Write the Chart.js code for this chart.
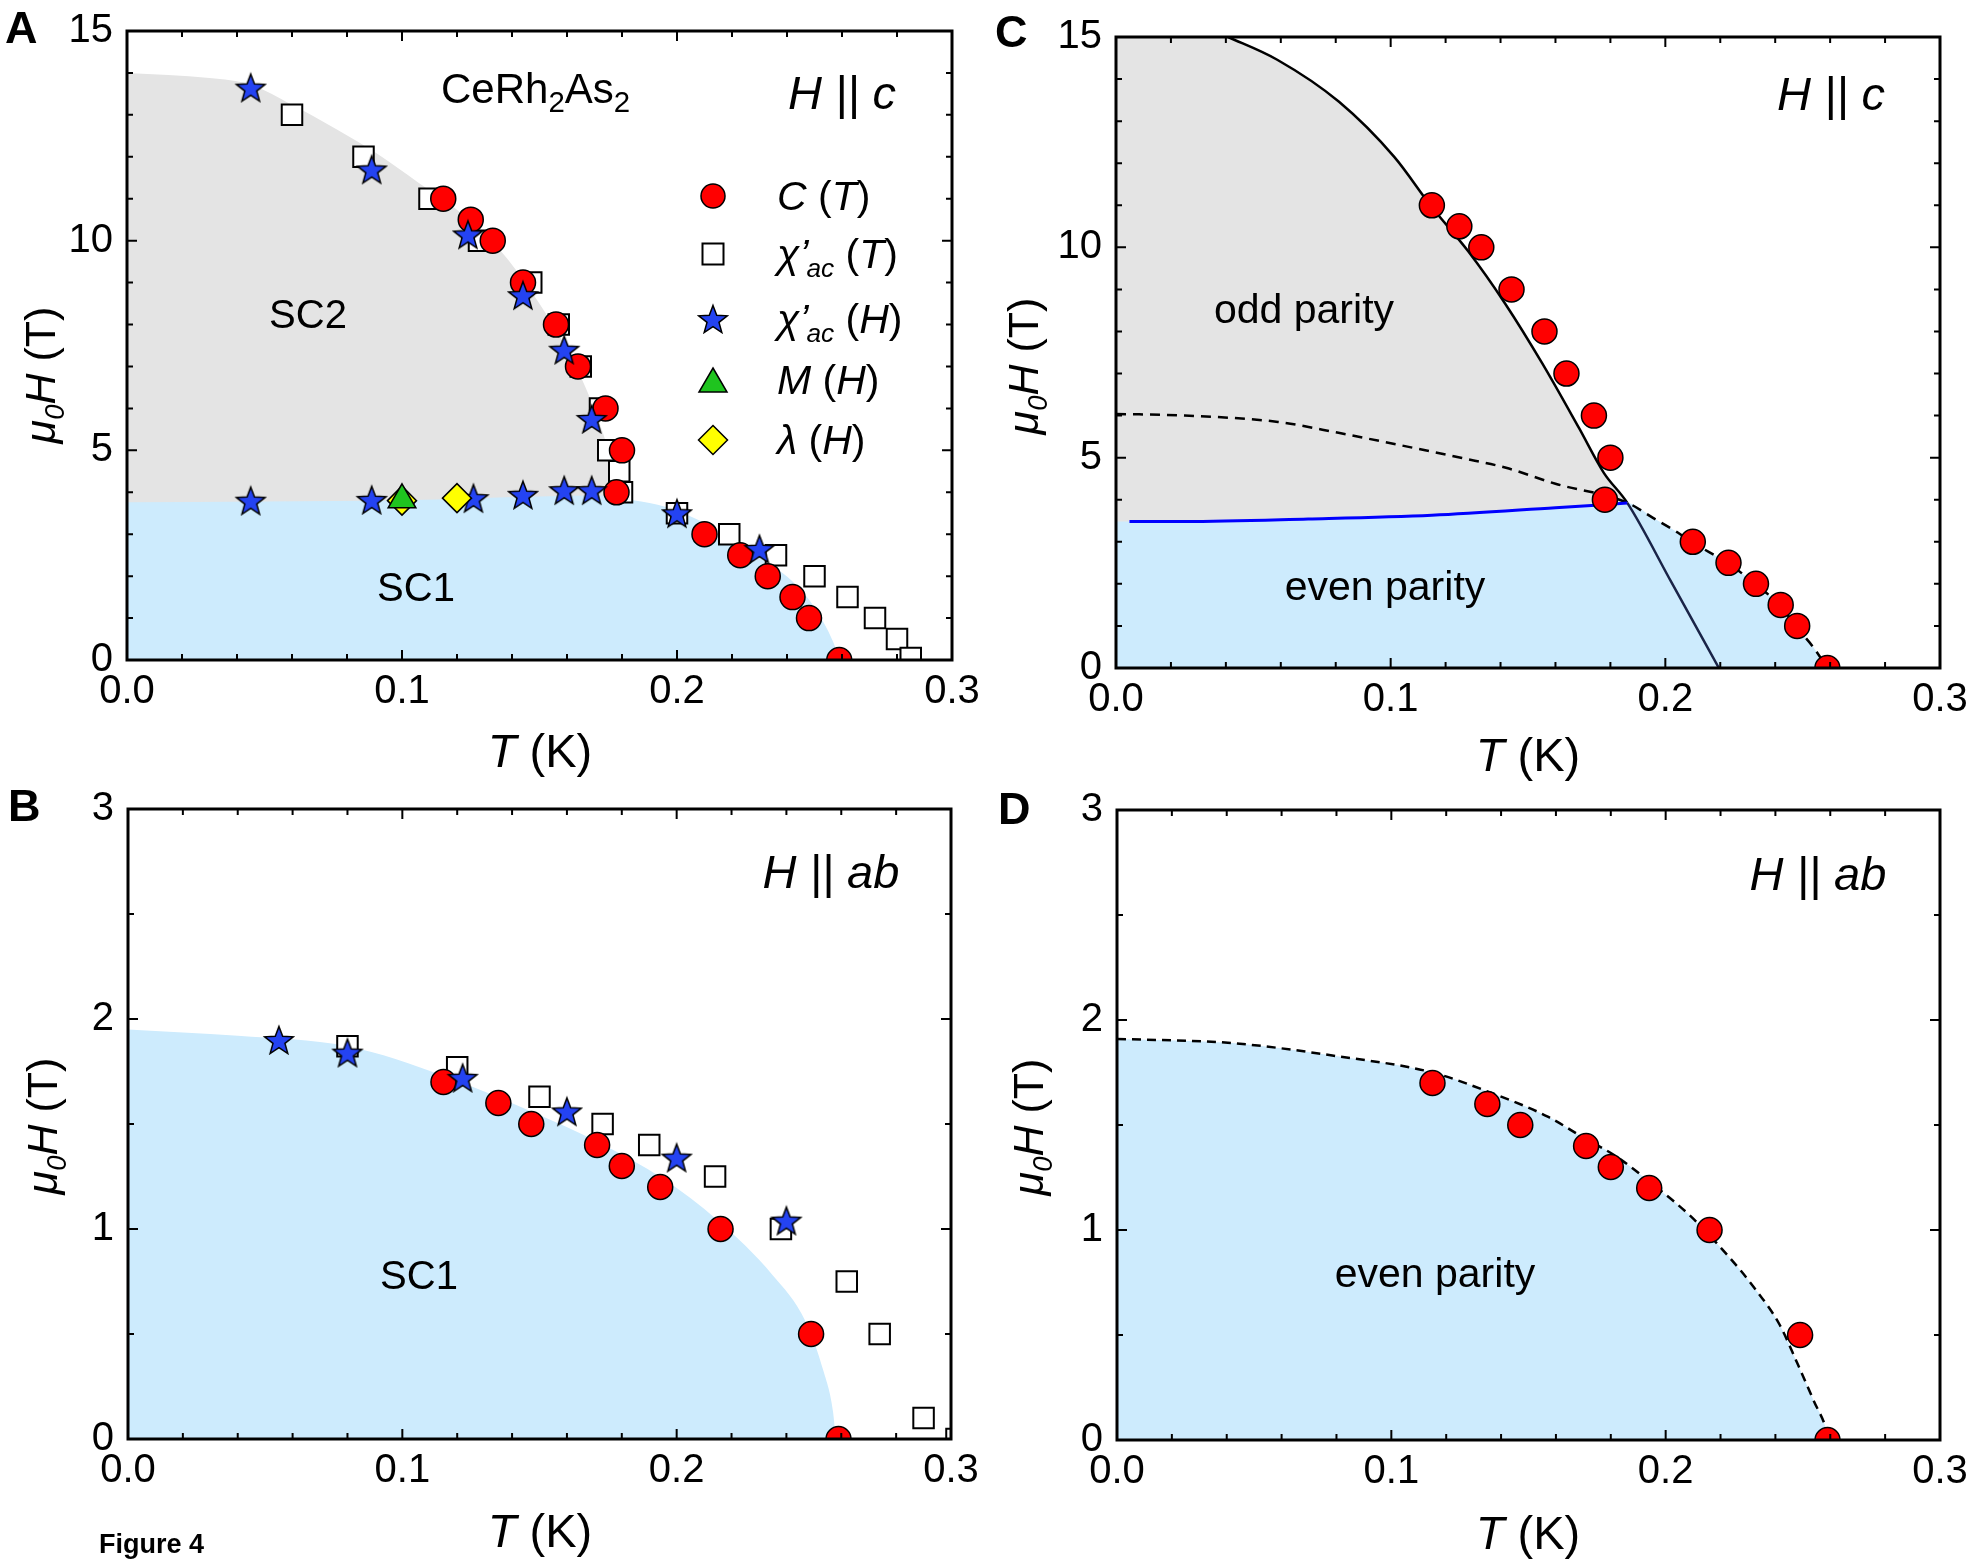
<!DOCTYPE html>
<html>
<head>
<meta charset="utf-8">
<script src="https://cdn.jsdelivr.net/npm/chart.js@4.4.1/dist/chart.umd.min.js"></script>
<style>
  html, body { margin: 0; padding: 0; background: #fff; }
  #fig { position: relative; width: 1967px; height: 1566px; background: #fff; overflow: hidden; }
  #fig canvas { position: absolute; }
</style>
</head>
<body>
<div id="fig">
  <canvas id="pA" width="983" height="783" style="left:0;top:0"></canvas>
  <canvas id="pB" width="983" height="783" style="left:0;top:783px"></canvas>
  <canvas id="pC" width="984" height="783" style="left:983px;top:0"></canvas>
  <canvas id="pD" width="984" height="783" style="left:983px;top:783px"></canvas>
</div>
<script>
// ---------- axis ticks ----------
const xTicks   = [0, 0.1, 0.2, 0.3];
const yTicksC  = [0, 5, 10, 15];
const yTicksAB = [0, 1, 2, 3];

// ---------- H || c : transition points ----------
// specific heat C(T)
const hcCpT = [0.115, 0.125, 0.133, 0.144, 0.156, 0.164, 0.174, 0.180, 0.178, 0.210, 0.223, 0.233, 0.242, 0.248, 0.259];
const hcCpH = [11, 10.5, 10, 9, 8, 7, 6, 5, 4, 3, 2.5, 2, 1.5, 1, 0];
// ac susceptibility vs temperature
const hcChiTT = [0.060, 0.086, 0.110, 0.128, 0.147, 0.157, 0.165, 0.172, 0.175, 0.179, 0.180, 0.200, 0.219, 0.236, 0.250, 0.262, 0.272, 0.280, 0.285];
const hcChiTH = [13, 12, 11, 10, 9, 8, 7, 6, 5, 4.5, 4, 3.5, 3, 2.5, 2, 1.5, 1, 0.5, 0.05];
// ac susceptibility vs field
const hcChiHT = [0.045, 0.089, 0.124, 0.144, 0.159, 0.169, 0.045, 0.089, 0.126, 0.144, 0.159, 0.169, 0.200, 0.230];
const hcChiHH = [13.65, 11.7, 10.15, 8.7, 7.4, 5.75, 3.8, 3.82, 3.86, 3.94, 4.05, 4.05, 3.5, 2.65];
// magnetization
const hcMagT = [0.100];
const hcMagH = [3.82];
// penetration depth
const hcLamT = [0.100, 0.120];
const hcLamH = [3.80, 3.86];

// ---------- H || ab : transition points ----------
const abCpT = [0.115, 0.135, 0.147, 0.171, 0.180, 0.194, 0.216, 0.249, 0.259];
const abCpH = [1.7, 1.6, 1.5, 1.4, 1.3, 1.2, 1.0, 0.5, 0];
const abChiTT = [0.080, 0.120, 0.150, 0.173, 0.190, 0.214, 0.238, 0.262, 0.274, 0.290, 0.302];
const abChiTH = [1.87, 1.77, 1.63, 1.5, 1.4, 1.25, 1.0, 0.75, 0.5, 0.1, 0.0];
const abChiHT = [0.055, 0.080, 0.122, 0.160, 0.200, 0.240];
const abChiHH = [1.9, 1.84, 1.72, 1.56, 1.34, 1.04];

// ---------- phase boundaries ----------
// A: upper edge of SC2 and upper edge of SC1
const aSC2T = [0, 0.030, 0.045, 0.060, 0.076, 0.091, 0.106, 0.122, 0.137, 0.152, 0.164, 0.172, 0.175, 0.177, 0.178, 0.1785];
const aSC2H = [14, 13.88, 13.72, 13.24, 12.66, 12.07, 11.38, 10.63, 9.67, 8.29, 6.9, 5.62, 4.99, 4.4, 3.9, 0];
const aSC1T = [0, 0.05, 0.10, 0.15, 0.172, 0.184, 0.196, 0.208, 0.220, 0.232, 0.245, 0.252, 0.257, 0.259];
const aSC1H = [3.76, 3.78, 3.81, 3.9, 3.92, 3.81, 3.65, 3.33, 2.91, 2.38, 1.68, 1.04, 0.40, 0];
// B: upper edge of SC1
const bSC1T = [0, 0.04, 0.08, 0.115, 0.147, 0.172, 0.195, 0.215, 0.235, 0.247, 0.2536, 0.257, 0.258];
const bSC1H = [1.95, 1.92, 1.87, 1.73, 1.56, 1.41, 1.24, 1.04, 0.78, 0.56, 0.32, 0.13, 0];
// C: odd-parity upper critical field (solid)
const cOddT = [0, 0.020, 0.0408, 0.0587, 0.0812, 0.1013, 0.1148, 0.1283, 0.1417, 0.1552, 0.1686, 0.1776, 0.1861, 0.2022, 0.2195];
const cOddH = [15.9, 15.6, 15, 14.46, 13.46, 12.15, 10.97, 9.9, 8.66, 7.24, 5.7, 4.64, 3.93, 2.04, 0];
// C: even-parity upper critical field (dashed)
const cEvenT = [0, 0.025, 0.059, 0.081, 0.104, 0.126, 0.142, 0.160, 0.1861, 0.1955, 0.2045, 0.210, 0.2233, 0.233, 0.2419, 0.2475, 0.2538, 0.259];
const cEvenH = [6.04, 6.0, 5.85, 5.59, 5.29, 4.99, 4.76, 4.38, 3.93, 3.57, 3.22, 2.98, 2.47, 1.98, 1.48, 0.99, 0.5, 0];
// C: even/odd transition line (blue)
const cTransT = [0.0049, 0.025, 0.070, 0.115, 0.160, 0.1861];
const cTransH = [3.48, 3.48, 3.54, 3.63, 3.81, 3.92];
// C: upper edge of the even-parity region
const cEvenFillT = [0, 0.025, 0.070, 0.115, 0.160, 0.1861, 0.1955, 0.2045, 0.210, 0.2233, 0.233, 0.2419, 0.2475, 0.2538, 0.259];
const cEvenFillH = [3.48, 3.48, 3.54, 3.63, 3.81, 3.92, 3.57, 3.22, 2.98, 2.47, 1.98, 1.48, 0.99, 0.5, 0];
// D: even-parity upper critical field (dashed)
const dEvenT = [0, 0.042, 0.079, 0.115, 0.136, 0.157, 0.170, 0.182, 0.196, 0.209, 0.223, 0.232, 0.2415, 0.248, 0.254, 0.2587, 0.2594];
const dEvenH = [1.91, 1.89, 1.83, 1.75, 1.655, 1.54, 1.44, 1.35, 1.21, 1.067, 0.873, 0.73, 0.55, 0.365, 0.186, 0.043, 0];

// ---------- styling ----------
const FAM = "'Liberation Sans', Arial, Helvetica, sans-serif";
const RED = '#ff0000', STAR_BLUE = '#2443f2', GREEN = '#1fc41f', YELLOW = '#ffff00';
const GRAY_FILL = '#e4e4e4', BLUE_FILL = '#cdebfd', LINE_BLUE = '#0000ff', NAVY = '#1a2448';

const pts = (xs, ys) => xs.map((x, i) => ({ x: x, y: ys[i] }));

function makeStar(R, fill) {
  const s = 34;
  const cv = document.createElement('canvas');
  cv.width = cv.height = s;
  const g = cv.getContext('2d');
  const c = s / 2, r = R * 0.42, off = R * 0.095;
  g.beginPath();
  for (let i = 0; i < 10; i++) {
    const ang = -Math.PI / 2 + i * Math.PI / 5;
    const rr = i % 2 ? r : R;
    g.lineTo(c + rr * Math.cos(ang), c + off + rr * Math.sin(ang));
  }
  g.closePath();
  g.fillStyle = fill; g.fill();
  g.lineWidth = 1.5; g.strokeStyle = '#000'; g.lineJoin = 'miter'; g.stroke();
  return cv;
}
const STAR = makeStar(15, STAR_BLUE);

const circles = (xs, ys) => ({ data: pts(xs, ys), pointStyle: 'circle', pointRadius: 12.5,
  pointBackgroundColor: RED, pointBorderColor: '#000', pointBorderWidth: 1.5, clip: 0 });
const squares = (xs, ys) => ({ data: pts(xs, ys), pointStyle: 'rect', pointRadius: 14.5,
  pointBackgroundColor: '#fff', pointBorderColor: '#000', pointBorderWidth: 2, clip: 0 });
const stars = (xs, ys) => ({ data: pts(xs, ys), pointStyle: STAR, pointRadius: 15, clip: 0 });
const triangles = (xs, ys) => ({ data: pts(xs, ys), pointStyle: 'triangle', pointRadius: 16,
  pointBackgroundColor: GREEN, pointBorderColor: '#000', pointBorderWidth: 1.5, clip: 0 });
const diamonds = (xs, ys) => ({ data: pts(xs, ys), pointStyle: 'rectRot', pointRadius: 14.5,
  pointBackgroundColor: YELLOW, pointBorderColor: '#000', pointBorderWidth: 1.5, clip: 0 });
const region = (xs, ys, color) => ({ data: pts(xs, ys), showLine: true, fill: 'origin',
  backgroundColor: color, borderWidth: 0, borderColor: 'rgba(0,0,0,0)', pointRadius: 0,
  cubicInterpolationMode: 'monotone', clip: 0 });
const curve = (xs, ys, color, width, dash) => ({ data: pts(xs, ys), showLine: true, fill: false,
  borderColor: color, borderWidth: width, borderDash: dash || [], pointRadius: 0,
  cubicInterpolationMode: 'monotone', clip: 0 });

// ---------- text helpers ----------
function rich(ctx, x, y, runs, size, align) {
  const parts = runs.map(r => {
    const s = r.sub ? size * (r.ss || 0.64) : size;
    const font = (r.it ? 'italic ' : '') + (r.b ? 'bold ' : '') + s + 'px ' + FAM;
    ctx.font = font;
    return { r: r, font: font, w: ctx.measureText(r.t).width, dy: r.sub ? size * 0.22 : 0 };
  });
  const total = parts.reduce((a, p) => a + p.w + (p.r.k || 0), 0);
  let cx = align === 'center' ? x - total / 2 : (align === 'right' ? x - total : x);
  ctx.textAlign = 'left';
  ctx.textBaseline = 'alphabetic';
  ctx.fillStyle = '#000';
  for (const p of parts) {
    ctx.font = p.font;
    ctx.fillText(p.r.t, cx, y + p.dy);
    cx += p.w + (p.r.k || 0);
  }
}
function vrich(ctx, x, y, runs, size) {
  ctx.save();
  ctx.translate(x, y);
  ctx.rotate(-Math.PI / 2);
  rich(ctx, 0, 0, runs, size, 'center');
  ctx.restore();
}
const X_TITLE = [{ t: 'T', it: true }, { t: ' (K)' }];
const Y_TITLE = [{ t: 'μ', it: true }, { t: '0', it: true, sub: true }, { t: 'H', it: true }, { t: ' (T)' }];

function letter(ctx, s, x, y) {
  ctx.font = 'bold 45px ' + FAM;
  ctx.textAlign = 'left'; ctx.textBaseline = 'alphabetic'; ctx.fillStyle = '#000';
  ctx.fillText(s, x, y);
}

// ---------- frame with inward ticks on all four sides ----------
function drawFrame(chart, ymajor, yminor) {
  const { ctx, chartArea: a, scales } = chart;
  const xs = scales.x, ys = scales.y;
  ctx.save();
  ctx.strokeStyle = '#000';
  ctx.lineWidth = 2;
  ctx.beginPath();
  const nx = Math.round((xs.max - xs.min) / 0.02);
  for (let i = 0; i <= nx; i++) {
    const v = xs.min + i * 0.02;
    const p = xs.getPixelForValue(v);
    const len = (i % 5 === 0) ? 10 : 6;
    ctx.moveTo(p, a.bottom); ctx.lineTo(p, a.bottom - len);
    ctx.moveTo(p, a.top); ctx.lineTo(p, a.top + len);
  }
  const ny = Math.round((ys.max - ys.min) / yminor);
  const every = Math.round(ymajor / yminor);
  for (let i = 0; i <= ny; i++) {
    const v = ys.min + i * yminor;
    const p = ys.getPixelForValue(v);
    const len = (i % every === 0) ? 10 : 6;
    ctx.moveTo(a.left, p); ctx.lineTo(a.left + len, p);
    ctx.moveTo(a.right, p); ctx.lineTo(a.right - len, p);
  }
  ctx.stroke();
  ctx.lineWidth = 3;
  ctx.strokeRect(a.left, a.top, a.right - a.left, a.bottom - a.top);
  ctx.restore();
}

// ---------- panel factory ----------
function makePanel(id, cfg) {
  const cv = document.getElementById(id);
  const tickFont = { family: FAM, size: 40 };
  return new Chart(cv, {
    type: 'scatter',
    data: { datasets: cfg.datasets },
    options: {
      responsive: false, animation: false, devicePixelRatio: 1, events: [],
      layout: { padding: { left: 0, top: cfg.area.top, right: cv.width - cfg.area.right, bottom: 0 } },
      plugins: { legend: { display: false }, tooltip: { enabled: false } },
      scales: {
        x: {
          type: 'linear', min: 0, max: 0.3,
          afterBuildTicks: s => { s.ticks = xTicks.map(v => ({ value: v })); },
          afterFit: s => { s.height = cv.height - cfg.area.bottom; s.paddingLeft = 0; s.paddingRight = 0; },
          grid: { display: false, drawTicks: false, tickLength: 0 },
          border: { display: false },
          ticks: { padding: 8, color: '#000', font: tickFont, maxRotation: 0, autoSkip: false,
                   callback: v => Number(v).toFixed(1) }
        },
        y: {
          type: 'linear', min: 0, max: cfg.yTicks[cfg.yTicks.length - 1],
          afterBuildTicks: s => { s.ticks = cfg.yTicks.map(v => ({ value: v })); },
          afterFit: s => { s.width = cfg.area.left; s.paddingTop = 0; s.paddingBottom = 0; },
          grid: { display: false, drawTicks: false, tickLength: 0 },
          border: { display: false },
          ticks: { padding: 14, color: '#000', font: tickFont, autoSkip: false,
                   callback: v => String(v) }
        }
      }
    },
    plugins: [
      { id: 'frame', afterDatasetsDraw: c => drawFrame(c, cfg.ymajor, cfg.yminor) },
      { id: 'notes', afterDraw: c => cfg.notes(c.ctx, c) }
    ]
  });
}

// legend marker drawing for panel A
function legendMarker(ctx, kind, x, y) {
  ctx.save();
  ctx.strokeStyle = '#000';
  if (kind === 'circle') {
    ctx.beginPath(); ctx.arc(x, y, 12, 0, Math.PI * 2);
    ctx.fillStyle = RED; ctx.fill(); ctx.lineWidth = 1.5; ctx.stroke();
  } else if (kind === 'square') {
    ctx.fillStyle = '#fff'; ctx.fillRect(x - 10.5, y - 10.5, 21, 21);
    ctx.lineWidth = 2; ctx.strokeRect(x - 10.5, y - 10.5, 21, 21);
  } else if (kind === 'star') {
    ctx.drawImage(STAR, x - STAR.width / 2, y - STAR.height / 2);
  } else if (kind === 'triangle') {
    ctx.beginPath(); ctx.moveTo(x, y - 12); ctx.lineTo(x + 14, y + 12); ctx.lineTo(x - 14, y + 12); ctx.closePath();
    ctx.fillStyle = GREEN; ctx.fill(); ctx.lineWidth = 1.5; ctx.stroke();
  } else if (kind === 'diamond') {
    ctx.beginPath(); ctx.moveTo(x, y - 14.5); ctx.lineTo(x + 14.5, y); ctx.lineTo(x, y + 14.5); ctx.lineTo(x - 14.5, y); ctx.closePath();
    ctx.fillStyle = YELLOW; ctx.fill(); ctx.lineWidth = 1.5; ctx.stroke();
  }
  ctx.restore();
}

const legendRows = [
  { kind: 'circle',   y: 196, runs: [{ t: 'C', it: true }, { t: ' (' }, { t: 'T', it: true }, { t: ')' }] },
  { kind: 'square',   y: 254, runs: [{ t: 'χ', it: true }, { t: '\u2019', it: true, k: -2 }, { t: 'ac', it: true, sub: true }, { t: ' (' }, { t: 'T', it: true }, { t: ')' }] },
  { kind: 'star',     y: 319, runs: [{ t: 'χ', it: true }, { t: '\u2019', it: true, k: -2 }, { t: 'ac', it: true, sub: true }, { t: ' (' }, { t: 'H', it: true }, { t: ')' }] },
  { kind: 'triangle', y: 380, runs: [{ t: 'M', it: true }, { t: ' (' }, { t: 'H', it: true }, { t: ')' }] },
  { kind: 'diamond',  y: 440, runs: [{ t: 'λ', it: true }, { t: ' (' }, { t: 'H', it: true }, { t: ')' }] }
];

// ---------- Panel A : H || c, measured points ----------
makePanel('pA', {
  area: { left: 127, top: 31, right: 952, bottom: 660 },
  yTicks: yTicksC, ymajor: 5, yminor: 1,
  datasets: [
    triangles(hcMagT, hcMagH),
    diamonds(hcLamT, hcLamH),
    stars(hcChiHT, hcChiHH),
    circles(hcCpT, hcCpH),
    squares(hcChiTT, hcChiTH),
    region(aSC1T, aSC1H, BLUE_FILL),
    region(aSC2T, aSC2H, GRAY_FILL)
  ],
  notes: (ctx) => {
    letter(ctx, 'A', 5, 43);
    rich(ctx, 441, 103, [{ t: 'CeRh' }, { t: '2', sub: true, ss: 0.7 }, { t: 'As' }, { t: '2', sub: true, ss: 0.7 }], 42, 'left');
    rich(ctx, 842, 109, [{ t: 'H || c', it: true }], 47, 'center');
    rich(ctx, 308, 328, [{ t: 'SC2' }], 40, 'center');
    rich(ctx, 416, 601, [{ t: 'SC1' }], 40, 'center');
    for (const row of legendRows) {
      legendMarker(ctx, row.kind, 713, row.y);
      rich(ctx, 777, row.y + 14, row.runs, 41, 'left');
    }
    rich(ctx, 540, 767, X_TITLE, 47, 'center');
    vrich(ctx, 55, 375, Y_TITLE, 43);
  }
});

// ---------- Panel B : H || ab, measured points ----------
makePanel('pB', {
  area: { left: 128, top: 26, right: 951, bottom: 656 },
  yTicks: yTicksAB, ymajor: 1, yminor: 0.5,
  datasets: [
    stars(abChiHT, abChiHH),
    circles(abCpT, abCpH),
    squares(abChiTT, abChiTH),
    region(bSC1T, bSC1H, BLUE_FILL)
  ],
  notes: (ctx) => {
    letter(ctx, 'B', 8, 38);
    rich(ctx, 831, 105, [{ t: 'H || ab', it: true }], 47, 'center');
    rich(ctx, 419, 506, [{ t: 'SC1' }], 40, 'center');
    rich(ctx, 540, 764, X_TITLE, 47, 'center');
    vrich(ctx, 57, 343, Y_TITLE, 43);
    ctx.font = 'bold 27px ' + FAM;
    ctx.textAlign = 'left'; ctx.textBaseline = 'alphabetic'; ctx.fillStyle = '#000';
    ctx.fillText('Figure 4', 99, 770);
  }
});

// ---------- Panel C : H || c, model phase diagram ----------
makePanel('pC', {
  area: { left: 133, top: 37, right: 957, bottom: 668 },
  yTicks: yTicksC, ymajor: 5, yminor: 1,
  datasets: [
    circles(hcCpT, hcCpH),
    curve(cTransT, cTransH, LINE_BLUE, 3),
    curve(cEvenT, cEvenH, '#000', 2.5, [10, 7]),
    Object.assign(curve(cOddT, cOddH, '#000', 2.5), {
      segment: {
        borderColor: s => s.p0.parsed.x >= 0.186 ? NAVY : '#000',
        borderWidth: s => s.p0.parsed.x >= 0.186 ? 2.5 : 2.5
      }
    }),
    region(cEvenFillT, cEvenFillH, BLUE_FILL),
    region(cOddT, cOddH, GRAY_FILL)
  ],
  notes: (ctx) => {
    letter(ctx, 'C', 12, 47);
    rich(ctx, 848, 110, [{ t: 'H || c', it: true }], 47, 'center');
    rich(ctx, 321, 323, [{ t: 'odd parity' }], 41, 'center');
    rich(ctx, 402, 600, [{ t: 'even parity' }], 41, 'center');
    rich(ctx, 545, 771, X_TITLE, 47, 'center');
    vrich(ctx, 55, 366, Y_TITLE, 43);
  }
});

// ---------- Panel D : H || ab, model phase diagram ----------
makePanel('pD', {
  area: { left: 134, top: 27, right: 957, bottom: 657 },
  yTicks: yTicksAB, ymajor: 1, yminor: 0.5,
  datasets: [
    circles(abCpT, abCpH),
    curve(dEvenT, dEvenH, '#000', 2.5, [9, 6]),
    region(dEvenT, dEvenH, BLUE_FILL)
  ],
  notes: (ctx) => {
    letter(ctx, 'D', 15, 41);
    rich(ctx, 835, 107, [{ t: 'H || ab', it: true }], 47, 'center');
    rich(ctx, 452, 504, [{ t: 'even parity' }], 41, 'center');
    rich(ctx, 545, 766, X_TITLE, 47, 'center');
    vrich(ctx, 60, 344, Y_TITLE, 43);
  }
});
</script>
</body>
</html>
